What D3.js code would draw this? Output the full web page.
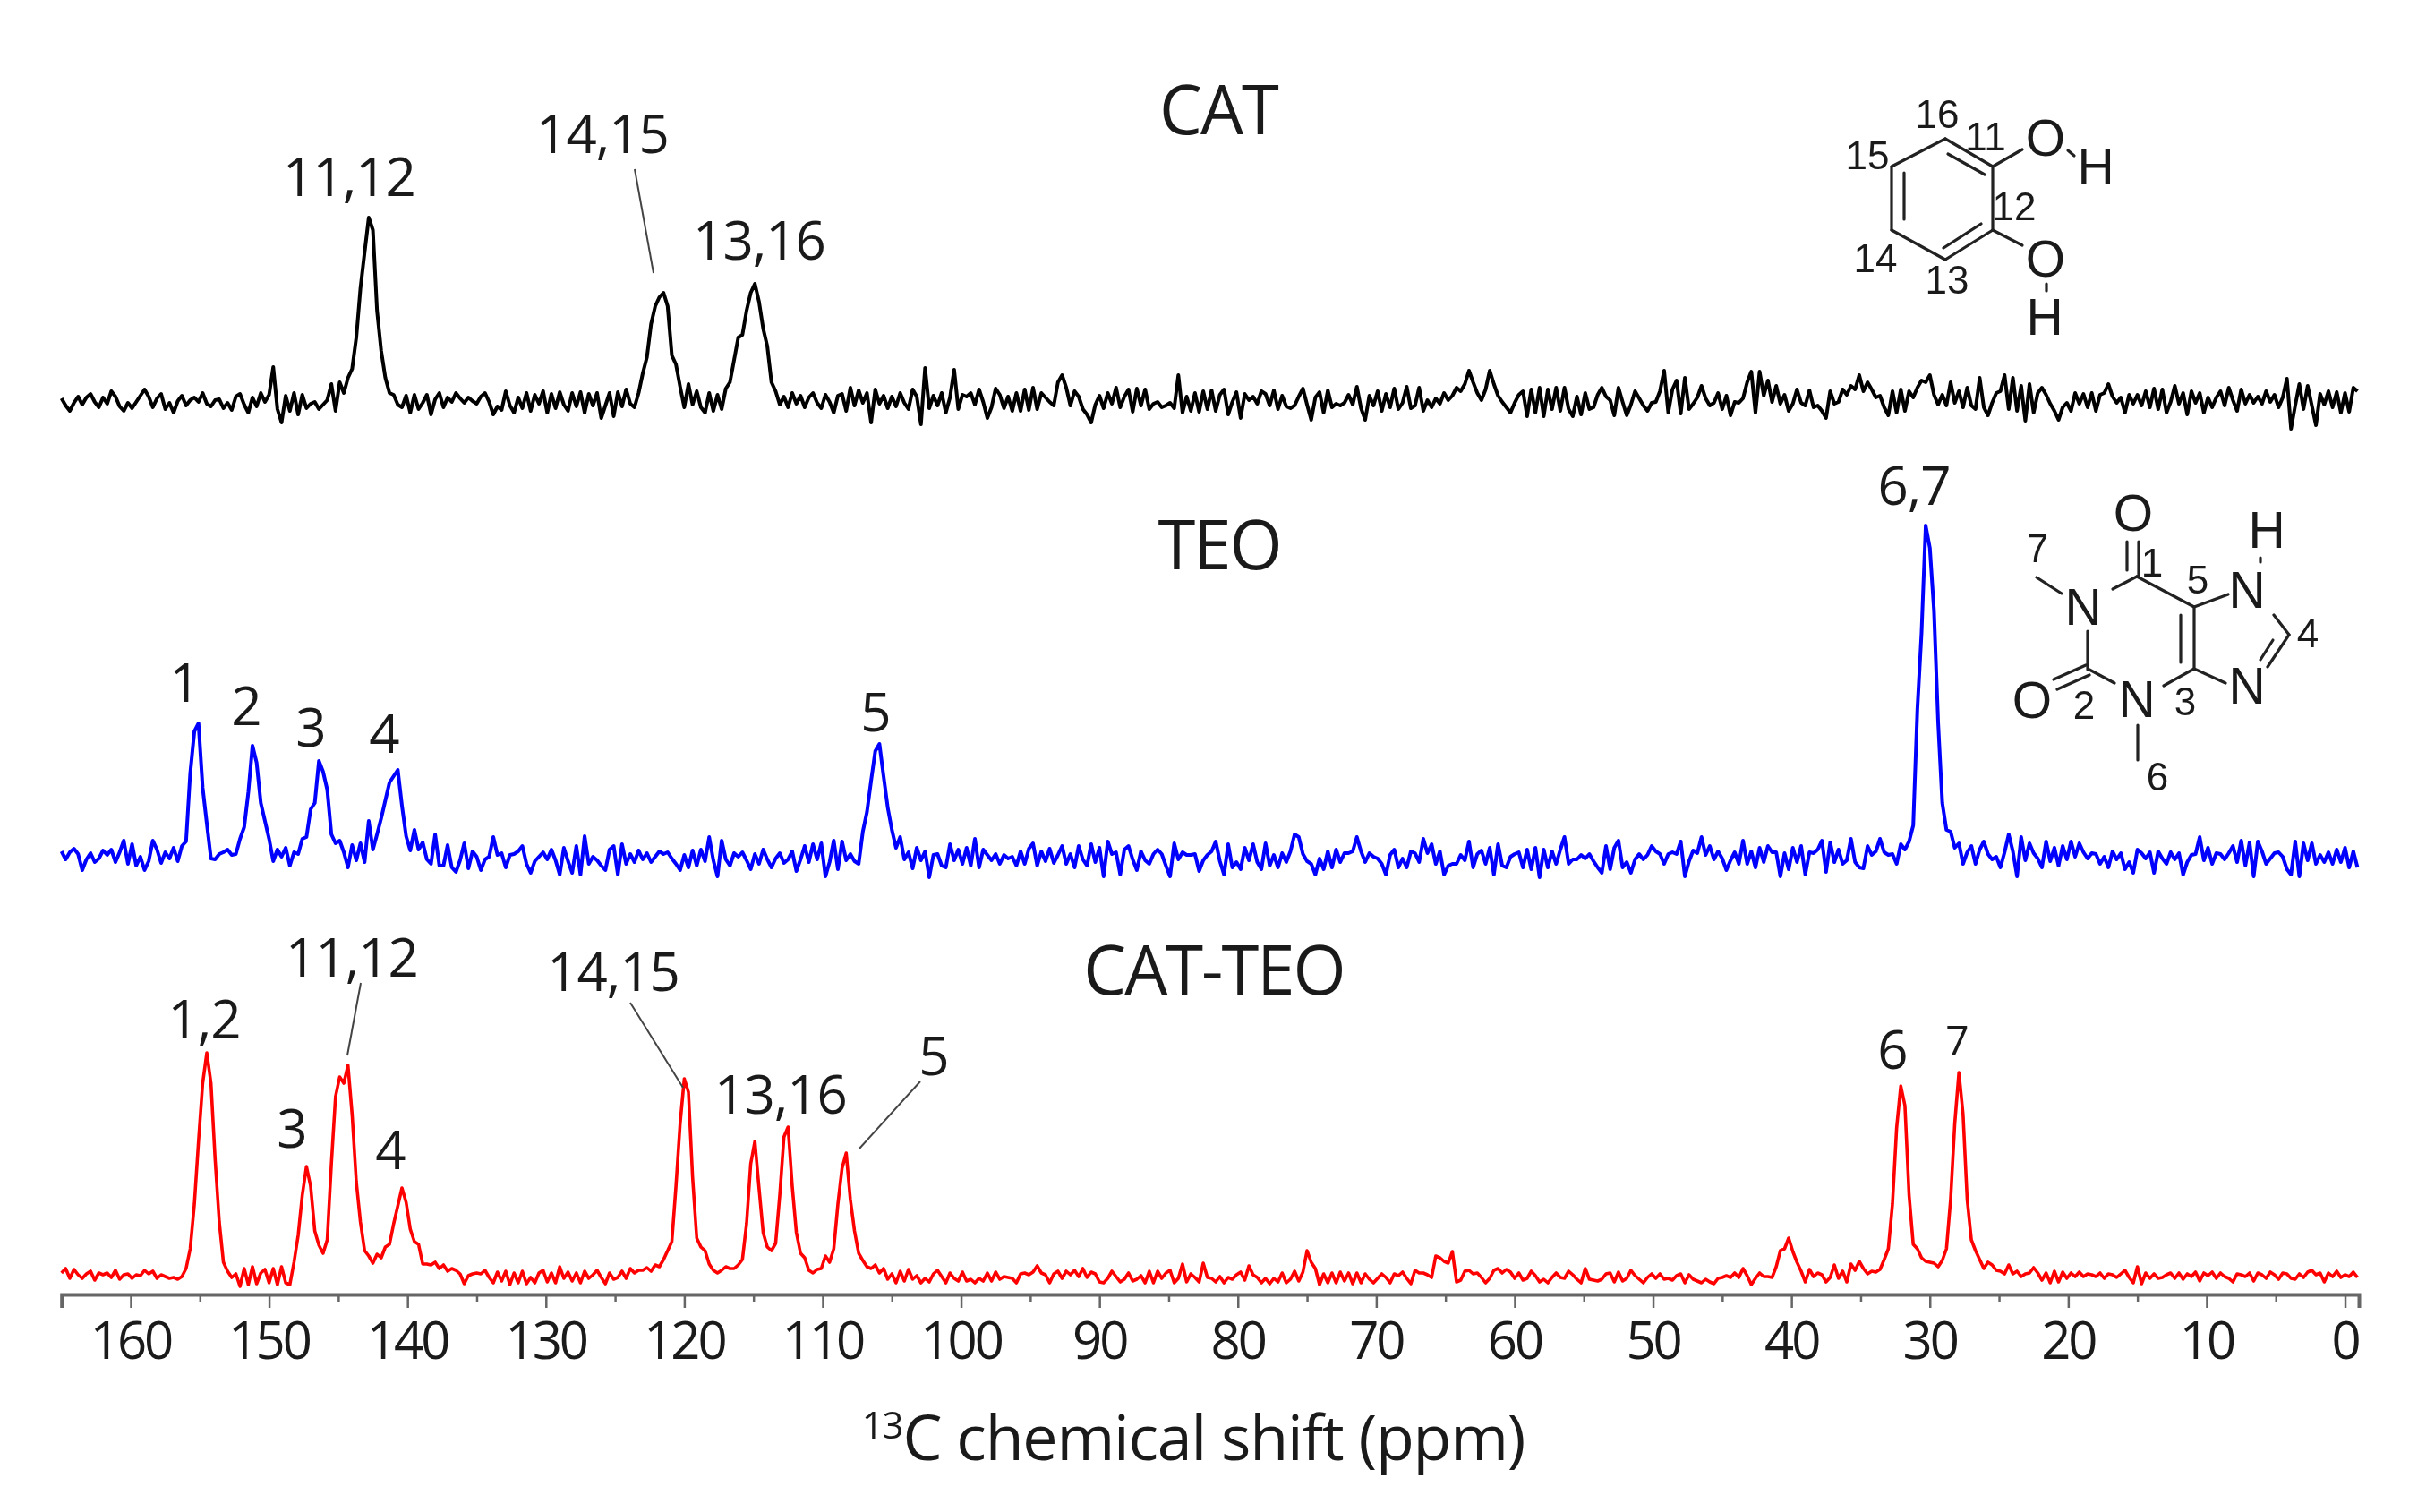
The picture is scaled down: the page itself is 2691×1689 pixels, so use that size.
<!DOCTYPE html>
<html lang="en">
<head>
<meta charset="utf-8">
<title>13C CP/MAS NMR of CAT, TEO and CAT-TEO</title>
<script src="https://d3js.org/d3.v7.min.js"></script>
<style>
  html, body { margin: 0; background: #fff; }
  svg { display: block; filter: blur(0.6px); }
  text { font-family: "Open Sans", sans-serif; fill: #1a1a1a; }
  .tick-label { font-size: 58px; letter-spacing: -3px; text-anchor: middle; }
  .title { font-size: 76px; letter-spacing: -2px; text-anchor: middle; }
  .peak { font-size: 60px; letter-spacing: -1px; text-anchor: middle; }
  .atom { font-family: "Liberation Sans", sans-serif; font-size: 57px; text-anchor: middle; }
  .num { font-family: "Liberation Sans", sans-serif; font-size: 44px; text-anchor: middle; }
</style>
</head>
<body>
<div id="chart"></div>
<script>
// all spectra are sampled on the same grid: ppm = ppmStart - i * ppmStep
const ppmStart = 165;
const ppmStep = 0.3;

// intensities, one line = 6 ppm
const catValues = [
  2,-6,-12,-3,4,-5,3,7,-2,-8,3,-4,10,4,-7,-12,-3,-9,-2,5,
  12,4,-8,2,7,-10,-3,-14,-1,5,-6,0,3,-2,8,-4,-7,0,1,-9,
  -3,-11,4,7,-5,-14,3,-7,8,-2,6,37,-10,-25,5,-12,8,-16,6,-9,
  -4,-2,-10,-5,0,18,-12,20,8,25,35,70,125,165,204,190,100,55,25,8,
  6,-5,-8,5,-14,6,-10,-3,6,-16,1,8,-8,3,-2,8,2,-3,3,-1,
  -4,4,8,-2,-16,-7,-11,10,-6,-14,3,-9,8,-12,6,-4,10,-14,7,-9,
  9,-5,-12,8,-7,9,-14,7,-6,8,-20,-6,8,-18,9,-7,12,-4,-8,8,
  30,48,85,105,115,120,105,50,40,15,-8,18,-5,10,-8,-14,8,-12,6,-10,
  13,20,45,70,73,100,120,130,110,80,60,20,10,-5,4,-8,8,-4,5,-8,
  3,8,-3,-9,6,-2,-14,5,7,-12,14,-6,11,-3,8,-25,12,-4,5,-9,
  4,-7,8,-3,-10,12,4,-27,36,-9,5,-6,8,-14,3,34,-10,6,4,8,
  -5,12,-2,-20,-8,13,6,-9,4,-12,8,-12,12,-11,14,-10,8,3,-2,-6,
  20,28,14,-6,10,4,-10,-16,-25,-5,5,-9,8,-4,14,-8,4,12,-13,13,
  -6,12,-10,-4,-2,-8,-6,-3,-9,28,-14,4,-12,8,-13,10,-10,11,-12,6,
  12,-16,-2,9,-20,7,0,4,-4,10,7,-6,11,-10,5,-7,-9,-6,4,13,
  -5,-22,3,9,-14,11,-8,-4,-6,-3,6,-5,15,-9,-22,5,-6,10,-12,7,
  -8,13,-10,-3,15,-9,-6,14,-12,0,-8,2,-4,8,0,5,14,10,18,33,
  20,8,0,12,33,18,5,-2,-8,-14,-3,6,10,-18,12,-14,14,-18,12,-10,
  14,-12,14,-10,-18,4,-16,8,-10,-8,6,14,4,0,-17,14,-2,-17,-5,10,
  2,-6,-12,-3,-2,10,33,-14,12,22,-15,25,-10,-4,3,16,2,-6,-3,8,
  -10,5,-17,-2,-3,2,20,32,-14,32,5,22,-2,16,-4,6,-12,-4,12,-3,
  -6,11,-8,-6,-12,-20,10,-4,-2,12,6,16,12,28,10,20,12,3,5,-8,
  -17,10,-14,12,-12,10,3,14,22,20,28,6,-5,6,-6,20,-3,10,-8,14,
  -6,-10,25,-8,-17,-3,8,10,28,-10,25,-12,16,-23,18,-14,8,14,6,-4,
  -12,-22,-8,-3,-12,8,-4,7,-8,8,-12,6,8,18,4,-3,3,-14,6,-4,
  6,-6,10,-8,13,-10,12,-14,-2,16,-4,8,-16,10,-3,8,-14,3,-8,3,
  10,-6,14,0,-12,12,-4,6,-3,4,-4,10,-2,6,-8,3,24,-32,-6,18,
  -10,16,-6,-28,7,-5,10,-8,9,-14,8,-13,14,10
];

const teoValues = [
  6,-3,5,9,3,-15,-3,4,-6,-2,7,2,8,-6,5,18,-8,14,-10,0,
  -15,-5,18,8,-7,5,-2,10,-5,12,17,93,140,149,77,37,-2,-3,3,5,
  8,2,3,20,33,72,124,105,60,40,20,-5,8,0,10,-10,5,3,20,22,
  53,60,107,95,75,25,15,18,5,-12,13,-4,15,-6,40,8,25,43,63,83,
  90,97,57,23,7,30,8,16,-3,-8,25,-10,-10,13,-12,-17,-4,15,-13,6,
  0,-15,-3,0,22,2,4,-12,2,3,6,12,-8,-18,-5,0,5,-3,8,-4,
  -20,10,-5,-18,12,-20,23,-8,0,-4,-10,-15,8,12,-20,14,-8,3,-6,7,
  -3,4,-6,0,6,3,5,-2,-8,-15,2,-12,7,-10,8,-5,22,-4,-22,18,
  -3,-10,4,0,5,-4,-14,3,-8,8,-3,-12,-2,4,-7,-3,6,-16,-3,12,
  -6,14,-3,15,-22,-6,18,-14,17,-4,3,-5,-8,28,50,85,118,126,90,55,
  30,10,22,-3,5,-13,10,-4,6,-23,2,3,-10,-12,14,-4,8,-8,10,-10,
  20,-12,8,2,-4,3,-8,2,-2,0,-10,6,-8,9,15,-10,6,-5,9,-7,
  2,12,-8,3,-12,12,-3,-10,14,-6,10,-22,17,3,5,-20,8,12,-3,-15,
  6,-4,-8,3,8,3,-10,-22,15,-3,5,2,2,3,-16,-4,2,6,17,-5,
  -20,14,-12,-6,-14,10,-4,14,-6,-14,15,-10,2,-12,4,-6,6,25,22,3,
  -5,-8,-20,-2,-14,6,-12,8,-6,4,4,6,22,6,-6,4,0,-2,-8,-20,
  2,8,-12,-2,-12,6,4,-6,20,4,14,-8,6,-20,-10,-8,-8,2,-4,17,
  -12,3,7,-8,10,-20,14,-10,-12,0,3,5,-12,8,-14,10,-23,8,-12,6,
  -8,8,22,-8,-3,-3,2,-2,3,-5,-12,-18,12,-14,10,18,-12,-6,-18,-3,
  3,-3,2,12,6,3,-8,3,5,3,17,-22,-5,7,4,22,2,12,-3,6,
  -2,-15,-4,5,-8,18,-8,6,-12,10,-6,12,5,5,-22,4,-14,10,-6,12,
  -20,5,4,8,18,-17,16,-6,8,-8,-4,20,-6,-12,-13,12,2,6,20,5,
  2,3,-8,14,8,17,35,165,250,370,345,275,150,60,30,28,10,15,-8,5,
  12,-8,8,17,3,-3,0,-12,5,25,6,-22,22,-4,15,4,-2,-12,17,-5,
  10,-10,12,-3,17,0,15,5,-2,4,3,-8,0,-12,6,-3,4,-14,-6,-18,
  8,4,-2,5,-18,6,-2,-8,5,-3,4,-20,-6,2,3,22,-4,10,-8,4,
  3,-3,4,12,-6,18,-10,16,-22,17,6,-8,-2,4,5,0,-14,-20,17,-22,
  15,-4,15,-8,2,-6,5,-8,8,-6,10,-12,6,-12
];

const mixValues = [
  3,8,-3,7,1,-3,2,5,-5,3,1,3,-2,6,-4,1,2,-3,1,0,
  6,2,5,-3,1,-1,-3,-2,-4,-1,8,30,80,150,215,249,215,130,60,15,
  5,-2,2,-12,8,-10,10,-9,3,7,-8,8,-10,10,-8,-10,15,45,90,122,
  100,50,34,25,40,125,200,222,215,235,180,105,60,28,22,14,24,20,32,35,
  58,78,98,82,52,38,35,13,13,12,15,8,12,5,8,6,2,-9,0,2,
  3,2,6,-2,-8,4,-6,5,-10,3,-8,5,-9,-2,-8,3,6,-7,3,-8,
  10,-3,4,-6,3,-8,5,-3,1,6,-2,-9,3,-4,-2,5,-3,8,3,6,
  6,9,5,12,10,18,28,38,100,170,220,205,110,42,32,28,13,6,3,6,
  10,8,8,12,18,58,125,150,98,48,32,28,36,90,155,166,100,48,25,20,
  6,3,7,8,22,15,30,80,120,137,85,50,25,17,10,8,12,3,8,-4,
  2,-8,5,-6,7,-4,0,-8,-3,-7,2,6,-1,-8,3,-3,-6,4,-6,-4,
  -8,-3,-6,3,-6,4,-4,-1,-2,-3,-8,2,3,1,4,11,3,1,-8,2,
  5,-3,5,1,6,-1,8,-2,4,2,-7,-8,-3,5,-1,-7,-4,3,-6,-4,
  0,-8,5,-8,5,-3,3,6,-8,-3,13,-7,2,-2,-7,14,-2,-3,-7,-1,
  -8,-2,-4,1,4,-5,11,1,-2,-8,-3,-9,-3,-7,3,-8,-4,5,-6,4,
  28,15,8,-10,2,-8,3,-8,4,-6,3,-9,3,-8,2,-4,-8,-3,2,-2,
  -8,2,0,4,-3,-9,6,3,3,1,-2,22,20,16,14,27,-7,-5,5,6,
  2,3,-2,-8,-3,6,8,3,7,4,-3,3,-5,-3,5,0,-7,-4,-8,-2,
  3,-2,-3,5,1,-4,-8,8,-4,-5,-6,-4,2,3,-7,4,-6,-3,6,0,
  -4,-8,-2,2,-3,2,-4,-3,-5,0,2,-8,1,-4,-6,-8,-4,-7,-9,-3,
  -2,0,-2,3,-2,8,0,-10,-3,3,-1,-1,-2,10,28,30,42,27,15,5,
  -7,7,-1,3,1,-7,-2,12,-3,5,-7,13,6,16,8,2,5,4,7,18,
  30,80,165,212,190,90,35,30,20,16,15,14,10,17,30,85,170,227,180,85,
  40,28,18,8,15,12,6,5,2,12,2,5,-1,2,3,9,3,-5,3,-8,
  5,-7,4,-3,3,-1,4,-1,2,1,-1,3,-3,2,1,-2,2,6,-2,-8,
  10,-9,3,-3,2,-3,-2,1,3,-3,3,-4,2,-1,4,-6,3,0,4,-3,
  3,-1,-3,-7,2,1,-1,3,-6,3,1,-3,4,1,-4,3,2,-3,-4,2,
  -2,4,6,1,3,-7,3,-1,5,-2,1,-1,4,-2
];

const majorTicks = [160,150,140,130,120,110,100,90,80,70,60,50,40,30,20,10,0];
const minorTicks = [165,155,145,135,125,115,105,95,85,75,65,55,45,35,25,15,5];

const titles = ["CAT", "TEO", "CAT-TEO"];

// peak labels [text, x, y], text sits on top of the spectrum
const peakLabels = [
  ["11,12",390,197],["14,15",673,149],["13,16",848,268],
  ["1",206,762],["2",275,788],["3",347,812],["4",429,819],["5",978,795],["6,7",2138,542],
  ["1,2",228,1138],["11,12",393,1069],["3",326,1260],["4",436,1284],
  ["14,15",685,1085],["13,16",872,1222],["5",1043,1179],["6",2114,1172]
];
const leaders = [
  [709,189,730,305],[403,1098,388,1179],[704,1120,763,1215],[1028,1208,960,1283]
];

// structure drawings
const bonds = [
  // catechol
  [2173,155,2226,186],[2226,186,2226,257],[2226,257,2173,290],[2173,290,2113,257],[2113,257,2113,186],[2113,186,2173,155],
  [2176,172,2217,195],[2127,193,2127,245],[2171,277,2213,250],
  [2226,186,2259,167],[2226,257,2259,274],[2310,168,2317,174],[2286,317,2286,325],
  // theophylline
  [2376,605,2376,637],[2389,605,2389,644],[2360,658,2387,644],[2387,644,2451,678],[2451,678,2489,664],
  [2451,678,2451,747],[2436,687,2436,740],[2451,747,2486,763],[2451,747,2417,766],[2334,748,2362,763],
  [2332,705,2332,748],[2294,759,2330,743],[2298,770,2334,754],[2275,645,2303,663],[2388,810,2388,849],
  [2525,623,2525,628],[2540,687,2557,709],[2557,709,2533,745],[2539,715,2525,737]
];
const atoms = [
  ["O",2285,153],["H",2341,185],["O",2285,288],["H",2284,353],
  ["O",2383,572],["H",2532,591],["N",2510,658],["N",2327,677],["N",2510,765],["N",2387,780],["O",2270,781]
];
const atomNumbers = [
  ["16",2164,127],["11",2218,152],["15",2086,173],["12",2250,230],["14",2095,288],["13",2175,312],
  ["7",2276,612],["1",2404,628],["5",2455,647],["4",2578,707],["3",2441,783],["2",2328,787],["6",2410,867]
];

const width = 2691, height = 1689;

const svg = d3.select("#chart").append("svg")
  .attr("width", width)
  .attr("height", height);

// one x scale, a separate y scale per stacked spectrum
const x = d3.scaleLinear().domain([165, -1]).range([68.7, 2635]);
const yCat = d3.scaleLinear().domain([0, 204]).range([447, 243]);
const yTeo = d3.scaleLinear().domain([0, 370]).range([957, 587]);
const yMix = d3.scaleLinear().domain([0, 227]).range([1425, 1198]);

const spectra = [
  { values: catValues, y: yCat, color: "#000000", width: 4 },
  { values: teoValues, y: yTeo, color: "#0000ff", width: 4 },
  { values: mixValues, y: yMix, color: "#ff0000", width: 3.6 }
];

spectra.forEach(s => {
  const line = d3.line()
    .x((d, i) => x(ppmStart - i * ppmStep))
    .y(d => s.y(d));
  svg.append("path")
    .datum(s.values)
    .attr("fill", "none")
    .attr("stroke", s.color)
    .attr("stroke-width", s.width)
    .attr("stroke-linejoin", "round")
    .attr("d", line);
});

// axis
const axisY = 1446;
const axis = svg.append("g")
  .attr("transform", "translate(0," + axisY + ")")
  .call(d3.axisBottom(x).tickValues(majorTicks).tickSize(15).tickFormat(""));
axis.select(".domain").attr("stroke", "#666").attr("stroke-width", 4);
axis.selectAll(".tick line").attr("stroke", "#666").attr("stroke-width", 2.5);

const minorAxis = svg.append("g")
  .attr("transform", "translate(0," + axisY + ")")
  .call(d3.axisBottom(x).tickValues(minorTicks).tickSize(8).tickFormat(""));
minorAxis.select(".domain").remove();
minorAxis.selectAll(".tick line").attr("stroke", "#666").attr("stroke-width", 2.5);

svg.selectAll(".tick-label")
  .data(majorTicks)
  .enter().append("text")
  .attr("class", "tick-label")
  .attr("x", d => x(d))
  .attr("y", 1518)
  .text(d => d);

// axis title, 13 is a superscript
const axisTitle = svg.append("text")
  .attr("x", 1333)
  .attr("y", 1631)
  .attr("text-anchor", "middle")
  .style("font-size", "70px")
  .style("letter-spacing", "-1.2px");
axisTitle.append("tspan").attr("font-size", "42px").attr("dy", "-24").text("13");
axisTitle.append("tspan").attr("dy", "24").text("C chemical shift (ppm)");

// spectrum titles
svg.append("text").attr("class", "title").attr("x", 1361).attr("y", 150).text(titles[0]);
svg.append("text").attr("class", "title").attr("x", 1362).attr("y", 636).text(titles[1]);
svg.append("text").attr("class", "title").attr("x", 1356).attr("y", 1111).text(titles[2]);

// peak assignments
svg.selectAll(".peak")
  .data(peakLabels)
  .enter().append("text")
  .attr("class", "peak")
  .attr("x", d => d[1])
  .attr("y", d => d[2])
  .attr("dy", "0.36em")
  .text(d => d[0]);

svg.append("text").attr("class", "peak").attr("x", 2186).attr("y", 1162)
  .attr("dy", "0.36em").style("font-size", "46px").text("7");

svg.selectAll(".leader")
  .data(leaders)
  .enter().append("line")
  .attr("class", "leader")
  .attr("x1", d => d[0]).attr("y1", d => d[1])
  .attr("x2", d => d[2]).attr("y2", d => d[3])
  .attr("stroke", "#444")
  .attr("stroke-width", 2);

// molecules
svg.selectAll(".bond")
  .data(bonds)
  .enter().append("line")
  .attr("class", "bond")
  .attr("x1", d => d[0]).attr("y1", d => d[1])
  .attr("x2", d => d[2]).attr("y2", d => d[3])
  .attr("stroke", "#222")
  .attr("stroke-width", 3.2)
  .attr("stroke-linecap", "round");

svg.selectAll(".atom")
  .data(atoms)
  .enter().append("text")
  .attr("class", "atom")
  .attr("x", d => d[1]).attr("y", d => d[2])
  .attr("dy", "0.36em")
  .text(d => d[0]);

svg.selectAll(".num")
  .data(atomNumbers)
  .enter().append("text")
  .attr("class", "num")
  .attr("x", d => d[1]).attr("y", d => d[2])
  .attr("dy", "0.36em")
  .text(d => d[0]);
</script>
</body>
</html>
